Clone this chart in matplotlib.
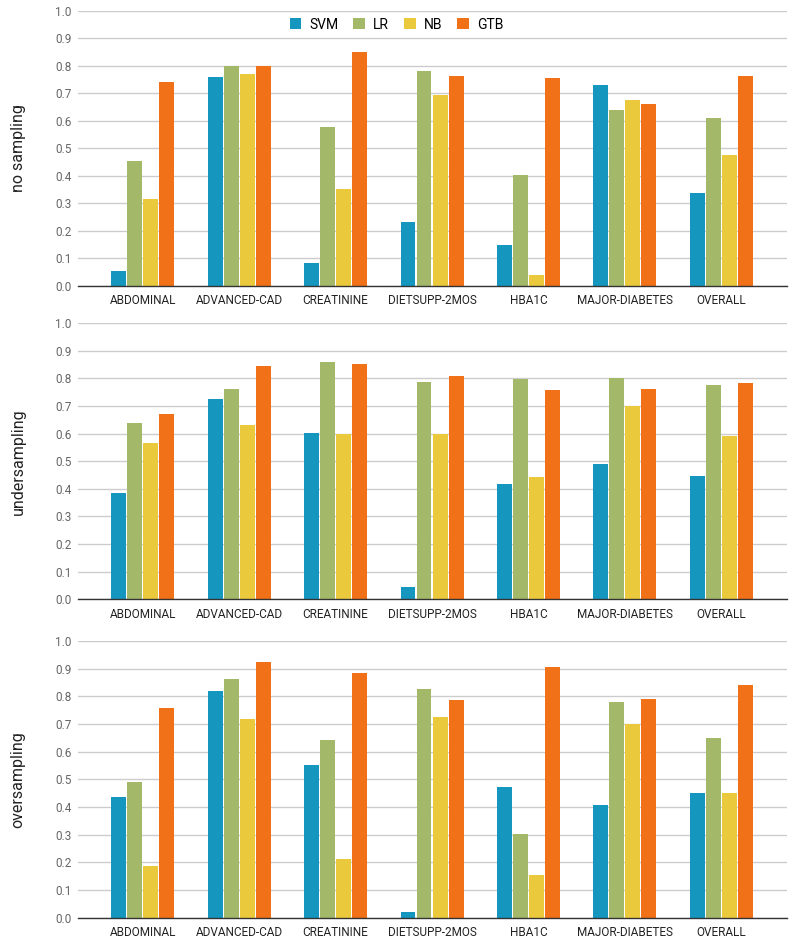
import numpy as np
import matplotlib
matplotlib.use('Agg')
import matplotlib.pyplot as plt

plt.rcParams['font.family'] = ['Roboto', 'DejaVu Sans']

categories = ['ABDOMINAL', 'ADVANCED-CAD', 'CREATININE', 'DIETSUPP-2MOS',
              'HBA1C', 'MAJOR-DIABETES', 'OVERALL']
models = ['SVM', 'LR', 'NB', 'GTB']
colors = ['#1596be', '#a4b86a', '#eaca3c', '#f07117']
panel_names = ['no sampling', 'undersampling', 'oversampling']

# scores per model, one list per panel
no_sampling = {
    'SVM': [0.056, 0.758, 0.085, 0.232, 0.149, 0.731, 0.337],
    'LR':  [0.453, 0.799, 0.577, 0.781, 0.403, 0.639, 0.610],
    'NB':  [0.315, 0.770, 0.352, 0.694, 0.040, 0.676, 0.476],
    'GTB': [0.741, 0.801, 0.849, 0.763, 0.755, 0.661, 0.763],
}
undersampling = {
    'SVM': [0.386, 0.727, 0.604, 0.046, 0.418, 0.490, 0.447],
    'LR':  [0.638, 0.761, 0.859, 0.787, 0.798, 0.801, 0.775],
    'NB':  [0.566, 0.630, 0.599, 0.599, 0.443, 0.699, 0.592],
    'GTB': [0.671, 0.844, 0.853, 0.809, 0.758, 0.762, 0.784],
}
oversampling = {
    'SVM': [0.435, 0.820, 0.553, 0.019, 0.473, 0.407, 0.452],
    'LR':  [0.490, 0.863, 0.642, 0.827, 0.302, 0.780, 0.648],
    'NB':  [0.187, 0.717, 0.212, 0.725, 0.154, 0.699, 0.449],
    'GTB': [0.758, 0.924, 0.884, 0.786, 0.905, 0.790, 0.840],
}
panels = [no_sampling, undersampling, oversampling]

fig = plt.figure(figsize=(7.93, 9.43), dpi=100)
# axes boxes in figure fractions: left, bottom, width, height
boxes = [
    [0.0984, 0.6967, 0.894, 0.2919],
    [0.0984, 0.3645, 0.894, 0.2927],
    [0.0984, 0.0268, 0.894, 0.2934],
]

x = np.arange(len(categories))
step = 0.166
width = 0.155

for data, name, box in zip(panels, panel_names, boxes):
    ax = fig.add_axes(box)
    for i, m in enumerate(models):
        ax.bar(x + (i - 1.5) * step, data[m], width, color=colors[i],
               label=m, zorder=3)
    ax.set_xlim(-0.67, 6.68)
    ax.set_ylim(0, 1.0)
    ax.set_yticks(np.arange(0, 1.01, 0.1))
    ax.set_yticklabels(['%.1f' % v for v in np.arange(0, 1.01, 0.1)])
    ax.set_xticks(x)
    ax.set_xticklabels(categories)
    ax.grid(axis='y', color='#cccccc', linewidth=1, zorder=0)
    for s in ['top', 'right', 'left']:
        ax.spines[s].set_visible(False)
    ax.spines['bottom'].set_color('#333333')
    ax.spines['bottom'].set_linewidth(1)
    ax.spines['bottom'].set_zorder(4)
    ax.tick_params(axis='y', length=0, pad=4.5, labelsize=8.5, labelcolor='#666666')
    ax.tick_params(axis='x', length=0, pad=6, labelsize=8.5, labelcolor='#222222')
    ax.set_ylabel(name, fontsize=11.5, color='#222222')
    ax.yaxis.set_label_coords(-0.074, 0.5)
    if data is no_sampling:
        ax.legend(loc='upper center', bbox_to_anchor=(0.449, 1.005), ncol=4,
                  frameon=False, fontsize=10, handlelength=0.85, handleheight=0.85,
                  handletextpad=0.55, columnspacing=1.1, borderaxespad=0.2)

fig.savefig('out.png', dpi=100, facecolor='white')
